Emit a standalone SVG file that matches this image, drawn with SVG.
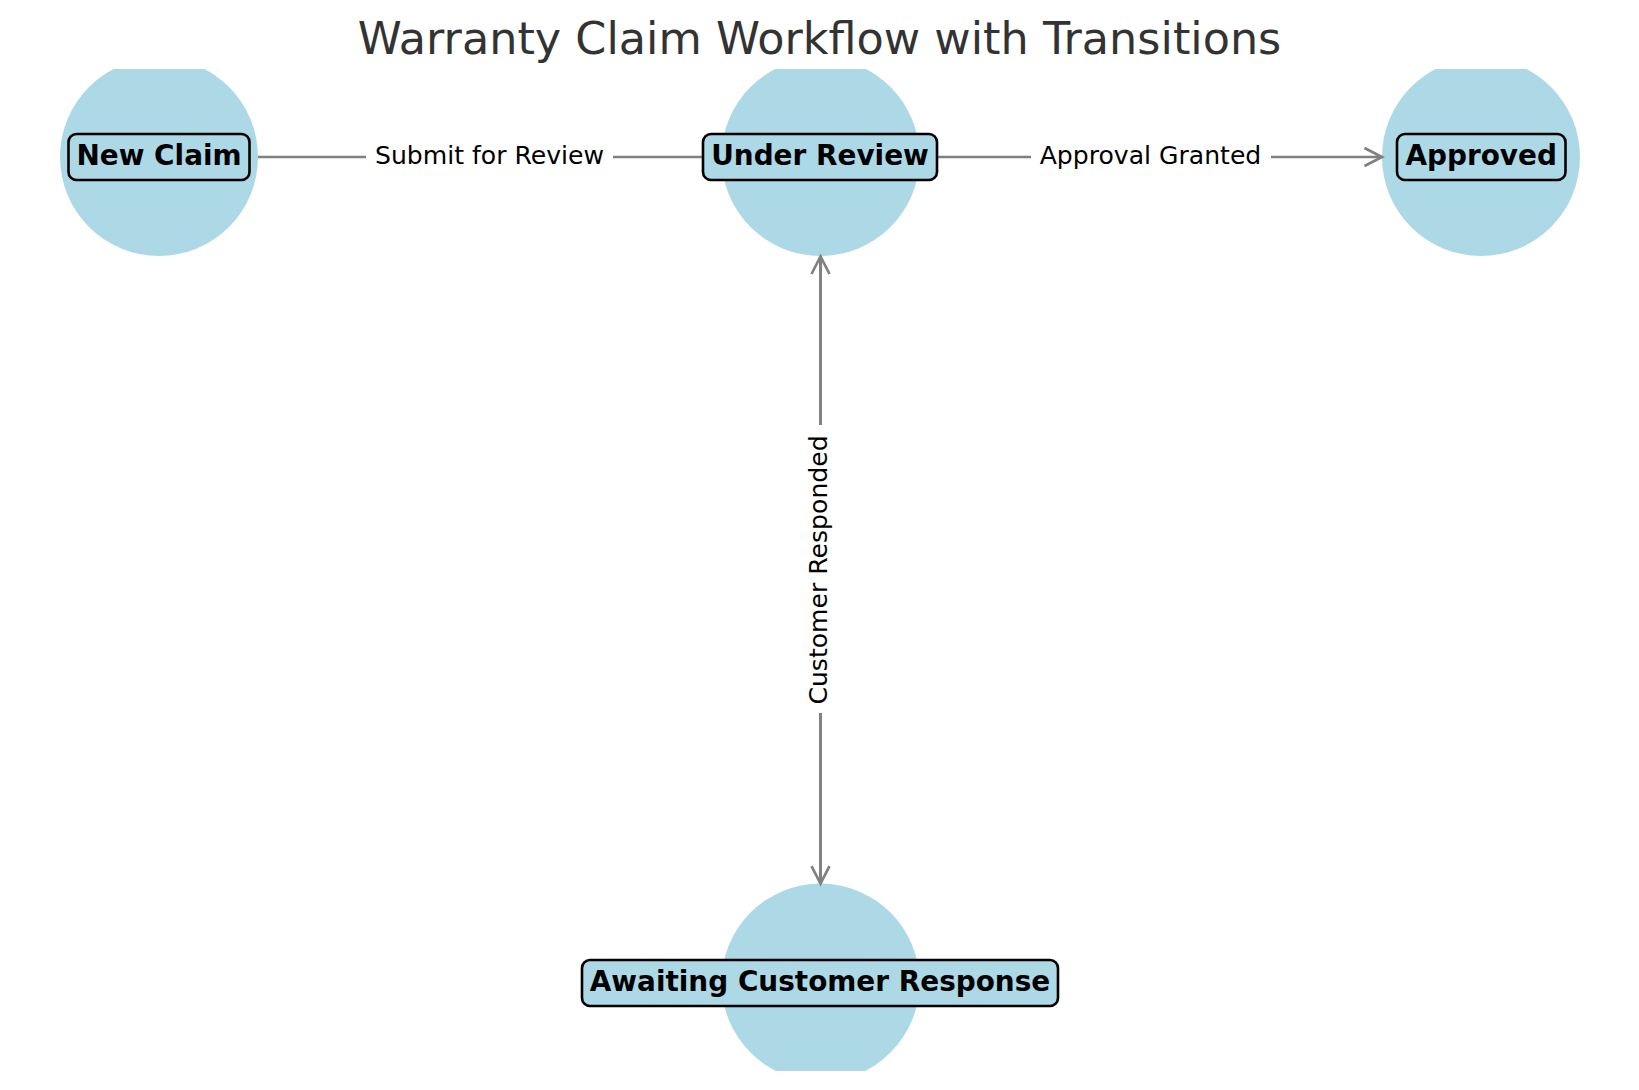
<svg xmlns="http://www.w3.org/2000/svg" width="1639" height="1090" viewBox="0 0 1639 1090">
<style>
.node{fill:#ADD8E6}
.lbox{fill:#ADD8E6;stroke:#000;stroke-width:2.6}
.ltxt{font-family:"DejaVu Sans",sans-serif;font-weight:bold;font-size:27.9px;fill:#000;text-anchor:middle}
.edge{stroke:#808080;stroke-width:2.7;fill:none}
.ebox{fill:#fff;stroke:none}
.etxt{font-family:"DejaVu Sans",sans-serif;font-size:25.1px;fill:#000;text-anchor:middle}
.title{font-family:"DejaVu Sans",sans-serif;font-size:44.5px;fill:#333;text-anchor:middle}
</style>
<defs>
<clipPath id="ax"><rect x="0" y="69" width="1639" height="1002"/></clipPath>
<marker id="arr" markerUnits="userSpaceOnUse" markerWidth="40" markerHeight="40" refX="20" refY="20" orient="auto" viewBox="0 0 40 40">
<path d="M2.5,11 L20,20 L2.5,29" fill="none" stroke="#808080" stroke-width="2.7"/>
</marker>
</defs>
<rect width="1639" height="1090" fill="#fff"/>
<text class="title" x="819.5" y="53.5">Warranty Claim Workflow with Transitions</text>
<g clip-path="url(#ax)">
<circle class="node" cx="159" cy="157" r="99"/>
<circle class="node" cx="820.5" cy="157" r="99"/>
<circle class="node" cx="1481" cy="157" r="99"/>
<circle class="node" cx="820.5" cy="982.6" r="99"/>
</g>
<g id="connectors">
<line class="edge" x1="258" y1="157" x2="721.5" y2="157" marker-end="url(#arr)"/>
<line class="edge" x1="919.5" y1="157" x2="1382" y2="157" marker-end="url(#arr)"/>
<line class="edge" x1="820.5" y1="256.5" x2="820.5" y2="883.6" marker-end="url(#arr)"/>
<line class="edge" x1="820.5" y1="883.6" x2="820.5" y2="256.5" marker-end="url(#arr)"/>
<rect class="ebox" x="366" y="141" width="247" height="32" rx="8"/>
<text class="etxt" x="489.5" y="163.5">Submit for Review</text>
<rect class="ebox" x="1031" y="141" width="240" height="32" rx="8"/>
<text class="etxt" x="1150.5" y="163.5">Approval Granted</text>
<rect class="ebox" x="804" y="425" width="33" height="288" rx="8"/>
<text class="etxt" transform="translate(826.5,570) rotate(-90)" x="0" y="0">Customer Responded</text>
</g>
<g id="n-new-claim">
<rect class="lbox" x="68.5" y="134" width="181" height="46" rx="8"/>
<text class="ltxt" x="159" y="164.5">New Claim</text>
</g>
<g id="n-under-review">
<rect class="lbox" x="703" y="134" width="234" height="46" rx="8"/>
<text class="ltxt" x="820" y="164.5">Under Review</text>
</g>
<g id="n-approved">
<rect class="lbox" x="1397" y="134" width="168.5" height="46" rx="8"/>
<text class="ltxt" x="1481.2" y="164.5">Approved</text>
</g>
<g id="n-awaiting">
<rect class="lbox" x="582" y="960" width="476" height="46" rx="8"/>
<text class="ltxt" x="820" y="990.5">Awaiting Customer Response</text>
</g>
</svg>
